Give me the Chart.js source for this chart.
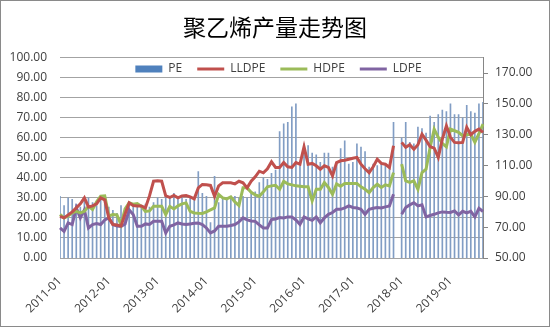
<!DOCTYPE html>
<html>
<head>
<meta charset="utf-8">
<title>聚乙烯产量走势图</title>
<script src="https://cdn.jsdelivr.net/npm/chart.js@4.4.0/dist/chart.umd.min.js"></script>
<style>
  html, body { margin: 0; padding: 0; background: #fff; }
  #wrap { width: 550px; height: 327px; }
</style>
</head>
<body>
<div id="wrap"><canvas id="peChart" width="550" height="327"></canvas></div>
<script>
/* ============================================================
   1. DATA
   ============================================================ */
// monthly categories 2011-01 .. 2019-09
const months = [];
for (let y = 2011; y <= 2019; y++) {
  for (let m = 1; m <= 12; m++) {
    if (y === 2019 && m > 9) break;
    months.push(y + '-' + String(m).padStart(2, '0'));
  }
}

const leftTicks  = [0, 10, 20, 30, 40, 50, 60, 70, 80, 90, 100];
const rightTicks = [50, 70, 90, 110, 130, 150, 170];

// PE total (right axis)
const pe = [
  90, 84, 89, 88, 85, 83, 88, 89, 86, 84, 89, 88,
  83, 81, 79, 84, 81, 86, 85, 83, 84, 85, 83, 86,
  89, 88, 90, 89, 92, 90, 89, 88, 90, 89, 106, 92,
  90, 73, 103, 86, 88, 89, 88, 90, 89, 90, 89, 92,
  93, 99, 102, 101, 105, 107, 132, 137, 138, 148, 150, 110,
  124, 123, 118, 117, 112, 118, 118, 109, 111, 121, 126, 111,
  112, 124, 122, 119, 109, 111, 110, 112, 111, 110, 138, null,
  128, 138, 125, 124, 135, 134, 131, 142, 138, 143, 146, 145,
  150, 143, 143, 141, 149, 145, 144, 150, 151
];

// left axis series
const lldpe = [
  20.8, 20, 21.5, 23, 25, 27, 30, 25.5, 26, 27, 30, 29,
  20, 16.7, 16.5, 16, 22, 27.5, 26.2, 26, 26, 25, 31, 38.3,
  38.5, 38.3, 31, 30.2, 31.2, 30, 31, 31.2, 30.5, 29.5, 35, 36.7,
  36.5, 36.2, 30.8, 36, 37.5, 37.5, 37.5, 37, 38.3, 37.5, 35, 38.3,
  40.5, 43.3, 42.5, 44.5, 48, 45.2, 45.2, 47.6, 45.5, 45.2, 47.6, 46.8,
  55.5, 46.8, 47.2, 46, 44.3, 46, 45.2, 41, 47.6, 48.5, 48.8, 49.3,
  49.8, 50.2, 46.8, 44.5, 42.6, 45.5, 49.3, 47.2, 46.8, 45.2, 56, null,
  57.7, 55.2, 56.5, 54.3, 56.5, 61.8, 58.8, 55.5, 54.8, 50.2, 59.3, 66,
  60.2, 57.7, 57.5, 57.7, 65.2, 61.5, 63.2, 64.3, 62.7
];

const hdpe = [
  21.7, 20, 21, 22.5, 23.3, 22.5, 23.3, 25.8, 24.2, 28, 30.8, 31,
  21, 21.7, 21.5, 16.7, 24.5, 27.5, 26.8, 27.2, 25.8, 23.3, 23.5, 25.8,
  25.8, 25.8, 21.7, 25.8, 24.5, 26, 27, 27.5, 23.3, 22.5, 22.3, 22.2,
  23, 24, 25, 31.7, 30, 29.5, 30.5, 28, 26.2, 35, 35, 32.8,
  31.5, 30.8, 33, 35.5, 36, 36.3, 34.3, 38.2, 37, 36.5, 36, 35.8,
  35.5, 35.5, 28.5, 34.3, 34.3, 37.6, 35.2, 31.8, 37, 35.8, 37.2, 37.2,
  37.2, 37.2, 35.5, 34.3, 32.6, 35.2, 36.8, 35.2, 36.5, 36, 42.6, null,
  46.8, 38.5, 37.7, 38.5, 34.3, 42.6, 44.3, 55.2, 64.3, 60.2, 57.2, 55.5,
  64.3, 63.5, 62.7, 61, 61.5, 61.8, 57.7, 62, 66.8
];

const ldpe = [
  15, 13.3, 17.5, 16.7, 25, 20, 24, 15, 16.7, 17.2, 16.7, 19,
  20, 16.7, 16, 15.8, 17, 24, 21.7, 15.8, 15.8, 17, 16.7, 18.3,
  18.3, 18.3, 12.5, 15.8, 16.5, 17.5, 17, 16.7, 17, 17.3, 17.5, 16.7,
  15, 12.5, 13.5, 15.8, 15.8, 15.8, 16.2, 16.7, 18, 20, 19, 18.5,
  18.3, 16.5, 15, 15, 19.2, 19.5, 20.2, 20, 20.5, 20.5, 19, 16.8,
  20.5, 19.5, 18.8, 20.5, 17.6, 20, 21.8, 22.7, 24.3, 24.3, 25, 26,
  25.2, 25, 24.3, 21.8, 24.3, 24.8, 25.2, 25, 25.5, 26, 31.8, null,
  21.8, 25.2, 26.5, 27.6, 26, 26.5, 20.5, 21.2, 21.8, 22.5, 23, 22.8,
  22.7, 23.5, 21.5, 23.3, 22.5, 23.3, 20.5, 24.8, 23.2
];

/* ============================================================
   2. PLUGINS
   ============================================================ */
const frame = {
  id: 'frame',
  beforeDraw(chart) {
    const c = chart.ctx;
    c.save();
    c.fillStyle = '#fff';
    c.fillRect(0, 0, chart.width, chart.height);
    c.restore();
  },
  afterLayout(chart) {
    // legend sits inside the plot, between the 100 and 90 gridlines
    const lg = chart.legend;
    lg.left = 74;
    lg.right = 483;
    lg.top = 48;
    lg.bottom = 88;
    lg.width = lg.right - lg.left;
    lg.height = lg.bottom - lg.top;
  },
  afterDraw(chart) {
    const c = chart.ctx;
    c.save();
    c.strokeStyle = '#8a8a8a';
    c.lineWidth = 1;
    c.strokeRect(0.5, 0.5, chart.width - 1, chart.height - 1);
    c.restore();
  },
};

/* ============================================================
   3. CHART
   ============================================================ */
const tickFont = { family: 'Open Sans', size: 12 };

new Chart(document.getElementById('peChart'), {
  data: {
    labels: months,
    datasets: [
      {
        type: 'bar', label: 'PE', data: pe, yAxisID: 'y1', order: 1,
        backgroundColor: '#819dc4', barThickness: 1,
      },
      {
        type: 'line', label: 'LLDPE', data: lldpe, yAxisID: 'y', order: 0,
        borderColor: '#c0504d', borderWidth: 3, pointRadius: 0, tension: 0,
      },
      {
        type: 'line', label: 'HDPE', data: hdpe, yAxisID: 'y', order: 0,
        borderColor: '#9bbb59', borderWidth: 3, pointRadius: 0, tension: 0,
      },
      {
        type: 'line', label: 'LDPE', data: ldpe, yAxisID: 'y', order: 0,
        borderColor: '#8064a2', borderWidth: 3, pointRadius: 0, tension: 0,
      },
    ],
  },
  options: {
    responsive: false,
    animation: false,
    layout: { padding: 0 },
    plugins: {
      title: {
        display: true,
        text: '聚乙烯产量走势图',
        color: '#000',
        font: { family: 'Noto Sans CJK SC', size: 23, weight: 'normal' },
        padding: { top: 13, bottom: 15 },
      },
      legend: {
        position: 'top',
        maxHeight: 2,
        labels: {
          usePointStyle: true,
          pointStyleWidth: 27,
          boxHeight: 7,
          padding: 15,
          color: '#404040',
          font: tickFont,
          sort: (a, b) => a.datasetIndex - b.datasetIndex,
          generateLabels(chart) {
            const items = Chart.defaults.plugins.legend.labels.generateLabels(chart);
            items.forEach(it => {
              if (it.datasetIndex === 0) {
                it.pointStyle = 'rect';
                it.fillStyle = '#4f81bd';
                it.lineWidth = 0;
              } else {
                it.pointStyle = 'line';
                it.lineWidth = 3;
              }
            });
            return items;
          },
        },
      },
      tooltip: { enabled: false },
    },
    scales: {
      x: {
        type: 'category',
        offset: false,
        grid: { display: false },
        border: { display: false },
        ticks: {
          autoSkip: false,
          maxRotation: 45,
          minRotation: 45,
          padding: 8,
          color: '#404040',
          font: tickFont,
          callback: (v, i) => months[i].endsWith('-01') ? months[i] : '',
        },
        afterFit: s => { s.height = 69; },
      },
      y: {
        position: 'left',
        min: 0,
        max: 100,
        grid: { color: '#a3a3a3', drawTicks: false },
        border: { display: false },
        ticks: {
          stepSize: 10,
          padding: 13,
          color: '#404040',
          font: tickFont,
          callback: v => v.toFixed(2),
        },
        afterBuildTicks: s => { s.ticks = leftTicks.map(v => ({ value: v })); },
        afterFit: s => { s.width = 60; },
      },
      y1: {
        position: 'right',
        min: 50,
        max: 180,
        grid: { drawOnChartArea: false, color: '#868686', tickLength: 5 },
        border: { display: true, color: '#868686' },
        ticks: {
          padding: 7,
          color: '#404040',
          font: tickFont,
          callback: v => v.toFixed(2),
        },
        afterBuildTicks: s => { s.ticks = rightTicks.map(v => ({ value: v })); },
        afterFit: s => { s.width = 67; },
      },
    },
  },
  plugins: [frame],
});
</script>
</body>
</html>
